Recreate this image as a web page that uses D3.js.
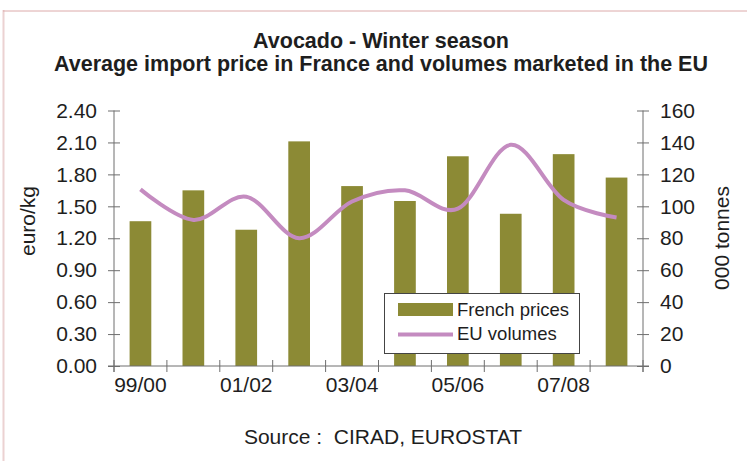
<!DOCTYPE html>
<html><head><meta charset="utf-8">
<script src="https://cdn.jsdelivr.net/npm/d3@7"></script>
<style>
html,body{margin:0;padding:0;background:#fff;}
svg{display:block;font-family:"Liberation Sans",Arial,sans-serif;}
</style></head>
<body>
<svg id="chart" width="747" height="461"></svg>
<script>
const categories = ["99/00","00/01","01/02","02/03","03/04","04/05","05/06","06/07","07/08","08/09"];
const frenchPrices = [1.36, 1.65, 1.28, 2.11, 1.69, 1.55, 1.97, 1.43, 1.99, 1.77];
const euVolumes = [110.6, 91.5, 106, 80, 103, 110, 98.5, 138.5, 104, 93];
const leftTicks = [0, 0.3, 0.6, 0.9, 1.2, 1.5, 1.8, 2.1, 2.4];
const rightTicks = [0, 20, 40, 60, 80, 100, 120, 140, 160];
const titleLines = ["Avocado - Winter season", "Average import price in France and volumes marketed in the EU"];

const svg = d3.select("#chart");
const L = 114, R = 643, T = 110.5, B = 366;
const barColor = "#8c8a35", lineColor = "#c48bc0", axisColor = "#6e6e6e", textColor = "#1e1e1e";
const FS = 21;

// frame
svg.append("line").attr("x1",3.5).attr("x2",3.5).attr("y1",10).attr("y2",461).attr("stroke","#ecd2d2").attr("stroke-width",2);
svg.append("line").attr("x1",3).attr("x2",747).attr("y1",11).attr("y2",11).attr("stroke","#dcaaaa").attr("stroke-width",1);

// title
svg.selectAll("text.title").data(titleLines).join("text")
  .attr("class","title").attr("x",381).attr("y",(d,i)=>48+i*23)
  .attr("text-anchor","middle").attr("font-weight","bold").attr("font-size",21.5)
  .attr("fill",textColor).text(d=>d);

const x = d3.scaleBand().domain(categories).range([L,R]).paddingInner(0.59).paddingOuter(0.295);
const xb = d3.scaleBand().domain(categories).range([L,R]);
const y = d3.scaleLinear().domain([0,2.4]).range([B,T]);
const y2 = d3.scaleLinear().domain([0,160]).range([B,T]);

// bars
svg.append("g").selectAll("rect").data(categories).join("rect")
  .attr("x",d=>x(d)).attr("width",x.bandwidth())
  .attr("y",(d,i)=>y(frenchPrices[i])).attr("height",(d,i)=>B-y(frenchPrices[i]))
  .attr("fill",barColor);

// line
const line = d3.line().x((d,i)=>xb(categories[i])+xb.bandwidth()/2).y(d=>y2(d)).curve(d3.curveCardinal.tension(0));
svg.append("path").datum(euVolumes).attr("d",line).attr("fill","none")
  .attr("stroke",lineColor).attr("stroke-width",4).attr("stroke-linejoin","round");

// left axis
const gl = svg.append("g").attr("transform",`translate(${L},0)`)
  .call(d3.axisLeft(y).tickValues(leftTicks).tickFormat(d3.format(".2f")).tickSize(6).tickPadding(11));
gl.select(".domain").attr("stroke",axisColor).attr("d",`M0,${T}V${B+6}`);
gl.selectAll(".tick line").attr("stroke",axisColor).attr("x1",6);
gl.selectAll(".tick text").attr("font-size",FS).attr("fill",textColor).attr("font-family","Liberation Sans, Arial, sans-serif");

// right axis
const gr = svg.append("g").attr("transform",`translate(${R},0)`)
  .call(d3.axisRight(y2).tickValues(rightTicks).tickSize(6).tickPadding(11));
gr.select(".domain").attr("stroke",axisColor).attr("d",`M0,${T}V${B+6}`);
gr.selectAll(".tick line").attr("stroke",axisColor).attr("x1",-6);
gr.selectAll(".tick text").attr("font-size",FS).attr("fill",textColor).attr("font-family","Liberation Sans, Arial, sans-serif");

// bottom axis
const gb = svg.append("g").attr("transform",`translate(0,${B})`)
  .call(d3.axisBottom(xb).tickSize(0).tickPadding(11).tickFormat((d,i)=> i%2===0 ? d : ""));
gb.select(".domain").attr("stroke",axisColor).attr("d",`M${L-6},0H${R+6}`);
gb.selectAll(".tick text").attr("font-size",FS).attr("fill",textColor).attr("font-family","Liberation Sans, Arial, sans-serif");
const bounds = categories.map(c=>xb(c)).concat([R]);
gb.append("g").selectAll("line").data(bounds).join("line")
  .attr("x1",d=>d).attr("x2",d=>d).attr("y1",-6).attr("y2",6).attr("stroke",axisColor);

// axis titles
svg.append("text").attr("transform","translate(35,221) rotate(-90)").attr("text-anchor","middle")
  .attr("font-size",FS).attr("fill",textColor).text("euro/kg");
svg.append("text").attr("transform","translate(729,238) rotate(-90)").attr("text-anchor","middle")
  .attr("font-size",FS).attr("fill",textColor).text("000 tonnes");

// source
svg.append("text").attr("x",383).attr("y",444).attr("text-anchor","middle")
  .attr("font-size",FS).attr("fill",textColor).attr("xml:space","preserve").text("Source :  CIRAD, EUROSTAT");

// legend
const lg = svg.append("g");
lg.append("rect").attr("x",384.5).attr("y",293.5).attr("width",195).attr("height",60)
  .attr("fill","#fff").attr("stroke","#444").attr("stroke-width",1);
lg.append("rect").attr("x",398).attr("y",303).attr("width",55).attr("height",13).attr("fill",barColor);
lg.append("line").attr("x1",398).attr("x2",453).attr("y1",334.5).attr("y2",334.5).attr("stroke",lineColor).attr("stroke-width",4);
lg.append("text").attr("x",457).attr("y",316).attr("font-size",18.5).attr("fill",textColor).text("French prices");
lg.append("text").attr("x",457).attr("y",340).attr("font-size",18.5).attr("fill",textColor).text("EU volumes");
</script>
</body></html>
